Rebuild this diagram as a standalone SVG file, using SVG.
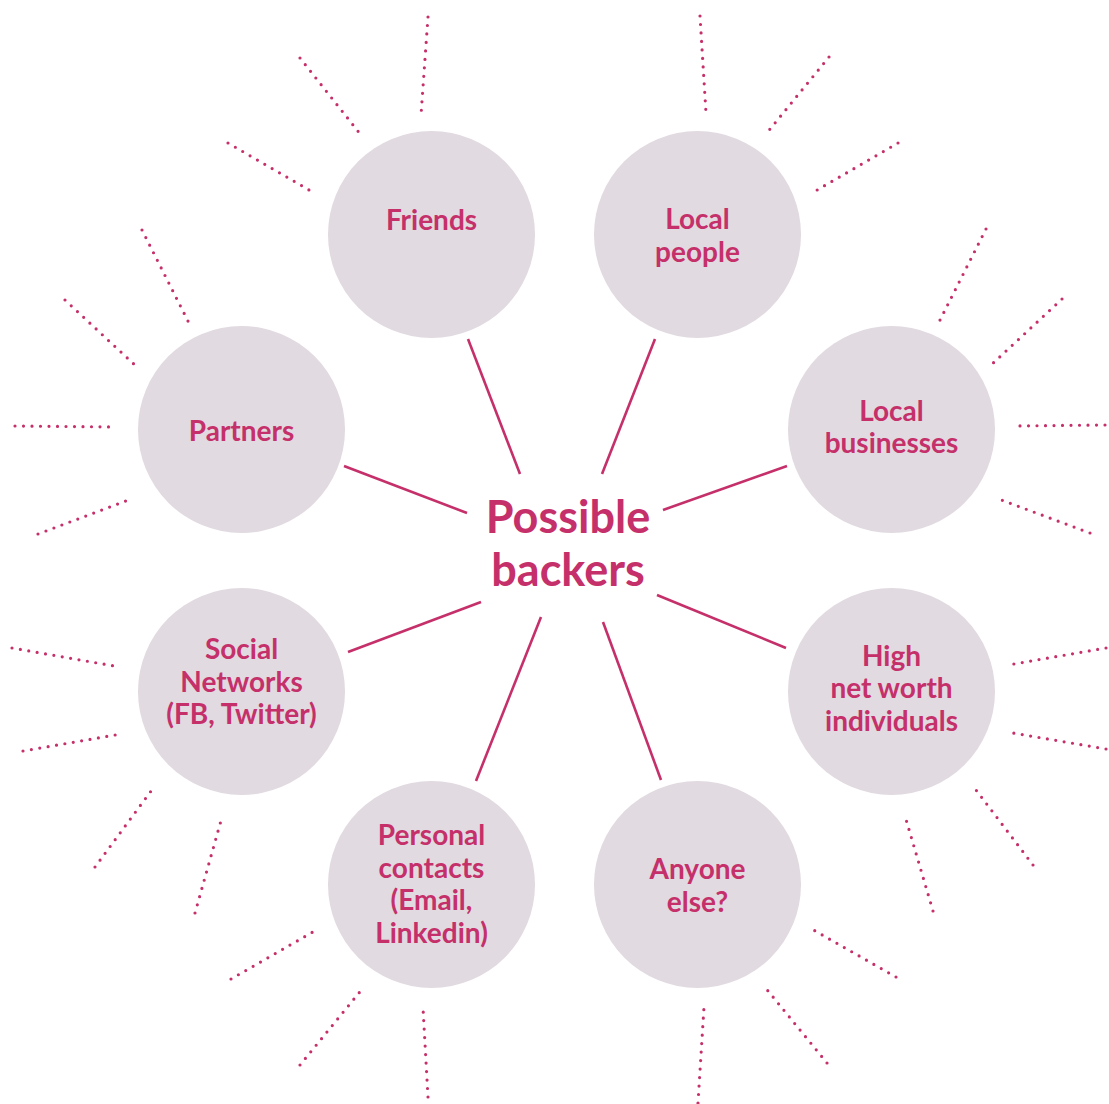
<svg xmlns="http://www.w3.org/2000/svg" width="1109" height="1104" viewBox="0 0 1109 1104">
<style>
.node circle{fill:#e1dae0}
.lbl{font-family:Lato,"Liberation Sans",sans-serif;font-weight:700;font-size:28px;fill:#c5306a;text-anchor:middle}
.center{font-family:Lato,"Liberation Sans",sans-serif;font-weight:700;font-size:45px;fill:#c5306a;text-anchor:middle}
.conn line{stroke:#c5306a;stroke-width:2.6;fill:none}
.dots line{stroke:#c5306a;stroke-width:3.2;stroke-linecap:round;stroke-dasharray:0 8.5;fill:none}
</style>
<rect width="1109" height="1104" fill="#ffffff"/>
<g id="rays" class="dots">
<line x1="428" y1="17" x2="421" y2="115"/>
<line x1="300" y1="58" x2="361" y2="135"/>
<line x1="228" y1="143" x2="316" y2="194"/>
<line x1="700" y1="16" x2="706" y2="113"/>
<line x1="829" y1="57" x2="766" y2="134"/>
<line x1="898" y1="143" x2="812" y2="193"/>
<line x1="986" y1="229" x2="937" y2="326"/>
<line x1="1062" y1="299" x2="990" y2="366"/>
<line x1="1105" y1="425" x2="1012" y2="426"/>
<line x1="1090" y1="533" x2="996" y2="498"/>
<line x1="142" y1="230" x2="191" y2="327"/>
<line x1="65" y1="300" x2="137" y2="367"/>
<line x1="15" y1="426" x2="114" y2="427"/>
<line x1="38" y1="534" x2="131" y2="499"/>
<line x1="1106" y1="648" x2="1008" y2="665"/>
<line x1="1106" y1="749" x2="1007" y2="732"/>
<line x1="1033" y1="865" x2="973" y2="786"/>
<line x1="933" y1="911" x2="905" y2="816"/>
<line x1="896" y1="977" x2="810" y2="928"/>
<line x1="827" y1="1063" x2="764" y2="986"/>
<line x1="698" y1="1103" x2="704" y2="1007"/>
<line x1="12" y1="648" x2="120" y2="667"/>
<line x1="23" y1="751" x2="121" y2="734"/>
<line x1="95" y1="867" x2="154" y2="787"/>
<line x1="195" y1="913" x2="222" y2="817"/>
<line x1="231" y1="979" x2="318" y2="929"/>
<line x1="300" y1="1065" x2="363" y2="988"/>
<line x1="428" y1="1097" x2="423" y2="1008"/>
</g>
<g id="connectors" class="conn">
<line x1="468" y1="339" x2="520" y2="474"/>
<line x1="655" y1="339" x2="602" y2="474"/>
<line x1="344" y1="466" x2="467" y2="513"/>
<line x1="787" y1="466" x2="663" y2="510"/>
<line x1="481" y1="602" x2="348" y2="652"/>
<line x1="657" y1="595" x2="786" y2="648"/>
<line x1="541" y1="617" x2="476" y2="781"/>
<line x1="603" y1="622" x2="661" y2="780"/>
</g>
<g id="center">
<text class="center" x="568" y="533">Possible</text>
<text class="center" x="568" y="586">backers</text>
</g>
<g id="friends" class="node">
<circle cx="431.5" cy="234.5" r="103.5"/>
<text class="lbl" x="431.5" y="230">Friends</text>
</g>
<g id="local-people" class="node">
<circle cx="697.5" cy="234.5" r="103.5"/>
<text class="lbl" x="697.5" y="229">Local</text>
<text class="lbl" x="697.5" y="262">people</text>
</g>
<g id="local-businesses" class="node">
<circle cx="891.5" cy="429.5" r="103.5"/>
<text class="lbl" x="891.5" y="421">Local</text>
<text class="lbl" x="891.5" y="453">businesses</text>
</g>
<g id="high-net-worth" class="node">
<circle cx="891.5" cy="691.5" r="103.5"/>
<text class="lbl" x="891.5" y="666">High</text>
<text class="lbl" x="891.5" y="698">net worth</text>
<text class="lbl" x="891.5" y="731">individuals</text>
</g>
<g id="anyone-else" class="node">
<circle cx="697.5" cy="884.5" r="103.5"/>
<text class="lbl" x="697.5" y="879">Anyone</text>
<text class="lbl" x="697.5" y="912">else?</text>
</g>
<g id="personal-contacts" class="node">
<circle cx="431.5" cy="884.5" r="103.5"/>
<text class="lbl" x="431.5" y="845">Personal</text>
<text class="lbl" x="431.5" y="878">contacts</text>
<text class="lbl" x="431.5" y="910">(Email,</text>
<text class="lbl" x="431.5" y="943">Linkedin)</text>
</g>
<g id="social-networks" class="node">
<circle cx="241.5" cy="691.5" r="103.5"/>
<text class="lbl" x="241.5" y="659">Social</text>
<text class="lbl" x="241.5" y="692">Networks</text>
<text class="lbl" x="241.5" y="724">(FB, Twitter)</text>
</g>
<g id="partners" class="node">
<circle cx="241.5" cy="429.5" r="103.5"/>
<text class="lbl" x="241.5" y="441">Partners</text>
</g>
</svg>
